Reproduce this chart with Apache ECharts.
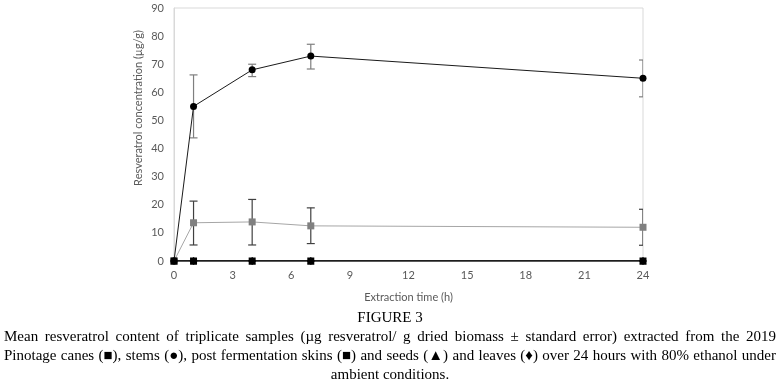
<!DOCTYPE html>
<html>
<head>
<meta charset="utf-8">
<script src="https://cdn.jsdelivr.net/npm/echarts@6/dist/echarts.min.js"></script>
<style>
  html, body { margin: 0; padding: 0; background: #fff; }
  #chart { width: 779px; height: 387px; }
</style>
</head>
<body>
<div id="chart"></div>
<script>
// extraction time points (h)
var hours = [0, 1, 4, 7, 24];
// resveratrol (ug/g) per tissue, with standard error bounds
var canes = [0, 0, 0, 0, 0];
var stems = [0, 55, 68, 72.9, 65];
var stemsLow = [0, 43.8, 65.6, 68.3, 58.4];
var stemsHigh = [0, 66.2, 70, 77.1, 71.5];
var skins = [0, 13.6, 13.9, 12.5, 12.0];
var skinsLow = [0, 5.7, 5.7, 6.2, 5.6];
var skinsHigh = [0, 21.3, 21.9, 18.9, 18.4];
var seeds = [0, 0, 0, 0, 0];
var leaves = [0, 0, 0, 0, 0];

var captionTitle = 'FIGURE 3';
var captionLines = [
  'Mean resveratrol content of triplicate samples (\u00b5g resveratrol/ g dried biomass \u00b1 standard error) extracted from the 2019',
  'Pinotage canes (\u25a0), stems (\u25cf), post fermentation skins (\u25a0) and seeds (\u25b2) and leaves (\u2666) over 24 hours with 80% ethanol under',
  'ambient conditions.'
];

var labelFont = 'Lato, "Open Sans", sans-serif';
var serif = '"Liberation Serif", "DejaVu Serif", serif';

function pairs(ys) {
  return hours.map(function (h, i) { return [h, ys[i]]; });
}
function errData(lo, hi) {
  var out = [];
  hours.forEach(function (h, i) {
    if (hi[i] !== lo[i]) out.push([h, lo[i], hi[i]]);
  });
  return out;
}
function errSeries(lo, hi, color) {
  return {
    type: 'custom',
    clip: true,
    z: 3,
    data: errData(lo, hi),
    renderItem: function (params, api) {
      var lowPt = api.coord([api.value(0), api.value(1)]);
      var highPt = api.coord([api.value(0), api.value(2)]);
      var w = 4;
      var st = { stroke: color, lineWidth: 1.2 };
      return {
        type: 'group',
        children: [
          { type: 'line', shape: { x1: highPt[0], y1: highPt[1], x2: lowPt[0], y2: lowPt[1] }, style: st },
          { type: 'line', shape: { x1: highPt[0] - w, y1: highPt[1], x2: highPt[0] + w, y2: highPt[1] }, style: st },
          { type: 'line', shape: { x1: lowPt[0] - w, y1: lowPt[1], x2: lowPt[0] + w, y2: lowPt[1] }, style: st }
        ]
      };
    }
  };
}

// justified caption text, word by word
var measure = document.createElement('canvas').getContext('2d');
var capFont = '15px ' + serif;
measure.font = capFont;
function justifyLine(text, y, left, right) {
  var words = text.split(' ');
  var widths = words.map(function (w) { return measure.measureText(w).width; });
  var total = widths.reduce(function (a, b) { return a + b; }, 0);
  var gap = (right - left - total) / (words.length - 1);
  var x = left;
  return words.map(function (w, i) {
    var el = {
      type: 'text', x: x, y: y,
      style: { text: w, font: capFont, fill: '#000', textVerticalAlign: 'middle' }
    };
    x += widths[i] + gap;
    return el;
  });
}

var graphics = [
  {
    type: 'text', x: 138, y: 108, rotation: Math.PI / 2,
    style: { text: 'Resveratrol concentration (\u00b5g/g)', font: '11px ' + labelFont, fill: '#595959', textAlign: 'center', textVerticalAlign: 'middle' }
  },
  {
    type: 'text', x: 390, y: 318,
    style: { text: captionTitle, font: '15px ' + serif, fill: '#000', textAlign: 'center', textVerticalAlign: 'middle' }
  },
  {
    type: 'text', x: 390, y: 375,
    style: { text: captionLines[2], font: capFont, fill: '#000', textAlign: 'center', textVerticalAlign: 'middle' }
  }
];
graphics = graphics.concat(justifyLine(captionLines[0], 337, 4, 776));
graphics = graphics.concat(justifyLine(captionLines[1], 356, 4, 776));

var chart = echarts.init(document.getElementById('chart'));
var option = {
  backgroundColor: '#fff',
  animation: false,
  grid: {
    left: 174, right: 136, top: 8, bottom: 126,
    show: true, borderColor: '#d9d9d9', borderWidth: 1
  },
  xAxis: {
    type: 'value', min: 0, max: 24, interval: 3,
    name: 'Extraction time (h)', nameLocation: 'middle', nameGap: 31,
    nameTextStyle: { fontFamily: labelFont, fontSize: 11, color: '#595959' },
    axisLine: { show: true, onZero: true, lineStyle: { color: '#d9d9d9' } },
    axisTick: { show: false },
    splitLine: { show: false },
    axisLabel: { margin: 9, fontFamily: labelFont, fontSize: 11, color: '#595959' }
  },
  yAxis: {
    type: 'value', min: 0, max: 90, interval: 10,
    axisLine: { show: true, lineStyle: { color: '#d9d9d9' } },
    axisTick: { show: false },
    splitLine: { show: false },
    axisLabel: { margin: 10, fontFamily: labelFont, fontSize: 11, color: '#595959' }
  },
  graphic: graphics,
  series: [
    {
      name: 'leaves', type: 'line', data: pairs(leaves), z: 2,
      symbol: 'diamond', symbolSize: 8,
      itemStyle: { color: '#000' }, lineStyle: { color: '#000', width: 1 }
    },
    {
      name: 'seeds', type: 'line', data: pairs(seeds), z: 2,
      symbol: 'triangle', symbolSize: 7,
      itemStyle: { color: '#000' }, lineStyle: { color: '#000', width: 1 }
    },
    {
      name: 'skins', type: 'line', data: pairs(skins), z: 4,
      symbol: 'rect', symbolSize: 7,
      itemStyle: { color: '#808080' }, lineStyle: { color: '#a6a6a6', width: 1 }
    },
    errSeries(skinsLow, skinsHigh, '#404040'),
    {
      name: 'canes', type: 'line', data: pairs(canes), z: 5,
      symbol: 'rect', symbolSize: 7,
      itemStyle: { color: '#000' }, lineStyle: { color: '#000', width: 1 }
    },
    {
      name: 'stems', type: 'line', data: pairs(stems), z: 6,
      symbol: 'circle', symbolSize: 7,
      itemStyle: { color: '#000' }, lineStyle: { color: '#1a1a1a', width: 1 }
    },
    errSeries(stemsLow, stemsHigh, '#7f7f7f')
  ]
};
chart.setOption(option);
</script>
</body>
</html>
